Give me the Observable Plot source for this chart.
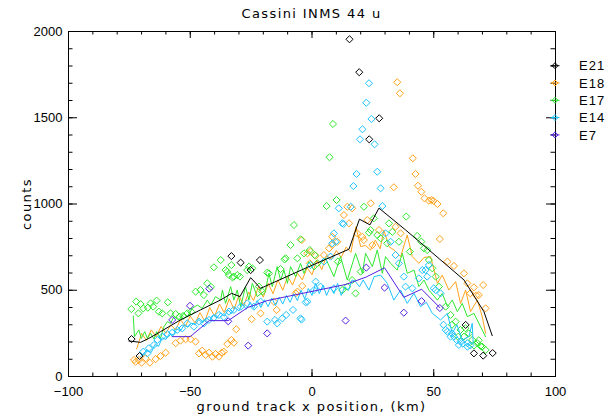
<!DOCTYPE html>
<html>
<head>
<meta charset="utf-8">
<script src="https://cdn.jsdelivr.net/npm/d3@7"></script>
<script src="https://cdn.jsdelivr.net/npm/@observablehq/plot@0.6"></script>
<style>
  html, body { margin: 0; padding: 0; background: #fff; }
  #wrap { position: relative; width: 610px; height: 414px; overflow: hidden; }
  .ovl { position: absolute; font-family: "DejaVu Sans", sans-serif; font-size: 13px; letter-spacing: 1.4px; color: #000; white-space: nowrap; line-height: 13px; }
</style>
</head>
<body>
<div id="wrap"></div>
<script>
// ---------- data (x = ground track x position km, y = counts) ----------
const seriesNames = ["E21", "E18", "E17", "E14", "E7"];
const seriesColors = ["#000000", "#ffa31a", "#2ee82e", "#1cc3ff", "#5420e0"];

const xMajor = [-100, -50, 0, 50, 100];
const xMinor = [-100, -90, -80, -70, -60, -50, -40, -30, -20, -10, 0, 10, 20, 30, 40, 50, 60, 70, 80, 90, 100];
const yMajor = [0, 500, 1000, 1500, 2000];
const yMinor = [0, 100, 200, 300, 400, 500, 600, 700, 800, 900, 1000, 1100, 1200, 1300, 1400, 1500, 1600, 1700, 1800, 1900, 2000];

const e21Pts = [[-74.1, 217], [-70.8, 119], [-33.1, 698], [-29.3, 660], [-25.2, 617], [-21.4, 675],
  [15.4, 1955], [19.4, 1764], [23.5, 1375], [27.6, 1497], [63.1, 299], [66.5, 134], [70.3, 121], [74.2, 136]];
const e21Line = [[-75.2, 206], [-70.4, 198], [-67.0, 221], [-62.2, 260], [-54.0, 328], [-45.8, 386], [-37.5, 444],
  [-33.0, 482], [-29.6, 463], [-25.2, 573], [-21.1, 511], [-0.6, 641], [15.2, 738], [19.5, 912], [23.8, 879],
  [27.5, 976], [38.4, 850], [62.4, 560], [70.6, 376], [74.0, 237]];

const e7Pts = [[-57.4, 328], [-50.1, 410], [-42.2, 509], [-34.4, 320], [-26.2, 179], [-18.4, 250],
  [13.8, 324], [22.3, 631], [29.8, 515], [37.7, 370], [45.0, 437], [52.5, 397]];
const e7Line = [[-57.4, 231], [-50.0, 231], [-42.2, 324], [-34.4, 324], [-26.4, 400], [-18.4, 440], [14.0, 534],
  [22.3, 577], [29.8, 630], [37.7, 459], [45.0, 506], [52.5, 399]];

const e18Pts = [[-73.1, 96], [-72.4, 86], [-71.1, 96], [-70.0, 80], [-68.3, 106], [-66.6, 80], [-64.2, 101], [-62.2, 119], [-60.1, 138],
  [-56.0, 193], [-54.0, 208], [-51.9, 216], [-49.9, 216], [-47.8, 202],
  [-46.4, 134], [-45.1, 150], [-43.7, 125], [-42.3, 138], [-40.9, 115], [-39.6, 130], [-38.2, 115], [-37.1, 138], [-36.2, 144],
  [-34.8, 188], [-33.1, 212], [-32.1, 196], [-31.1, 274], [-24.8, 332], [-21.1, 366], [-15.7, 434], [-14.5, 386],
  [-6.7, 482], [-6.0, 492], [-4.0, 525], [-4.2, 791], [-1.9, 714], [-0.9, 656], [-0.6, 724], [1.5, 700], [4.9, 704],
  [7.0, 743], [8.3, 762], [8.3, 810], [10.4, 781], [13.1, 936], [14.5, 984], [15.2, 888], [16.5, 975], [18.6, 830],
  [20.7, 810], [21.3, 791], [22.7, 907], [24.1, 1004], [24.8, 762], [27.5, 849], [33.6, 1097], [34.3, 868], [35.0, 1706],
  [36.1, 1642], [36.4, 830], [41.4, 1265], [42.5, 1174], [43.5, 1106], [44.9, 1071], [46.2, 1033], [48.0, 1019],
  [49.0, 1023], [49.8, 1019], [51.5, 1000], [53.9, 946], [52.5, 797], [55.6, 666], [58.3, 641], [62.4, 598],
  [63.8, 540], [65.0, 482], [66.5, 517], [67.5, 470], [68.5, 472], [70.3, 530], [71.3, 395]];
const e18Line = [[-72, 160], [-70, 250], [-68, 210], [-66, 270], [-64, 230], [-62, 290], [-60, 250], [-58, 300], [-56, 270],
  [-54, 330], [-52, 290], [-50, 350], [-48, 310], [-46, 370], [-44, 320], [-42, 400], [-40, 350], [-38, 420], [-36, 370],
  [-34, 450], [-32, 390], [-30, 470], [-28, 410], [-26, 490], [-24, 440], [-22, 520], [-20, 460], [-18, 540], [-16, 480],
  [-14, 560], [-12, 500], [-10, 580], [-8, 530], [-6, 600], [-4, 560], [-2, 630], [0, 590], [2, 675], [4, 620], [6, 700],
  [8, 680], [10, 730], [12, 690], [14, 750], [16, 720], [18, 868], [20, 753], [22, 760], [24, 733], [26, 790], [28, 740],
  [29.5, 849], [31.6, 753], [34, 730], [36.4, 695], [39.1, 820], [41.2, 695], [43.9, 656], [46, 690], [48.7, 695],
  [51.5, 540], [53.5, 588], [56.2, 501], [59, 550], [61, 424], [63.1, 501], [65.1, 376], [67.9, 443], [69.9, 347], [71.3, 250]];

const e17Pts = [[-74.2, 391], [-72.2, 434], [-70.4, 420], [-69.3, 395], [-71.3, 366], [-67.4, 399], [-66.3, 424], [-65.2, 405],
  [-63.8, 440], [-62.9, 376], [-61.5, 366], [-59.2, 430], [-58.1, 366], [-56.0, 362], [-54.4, 347], [-52.9, 351],
  [-51.2, 366], [-49.6, 376], [-47.8, 492], [-45.8, 501], [-44.4, 472], [-43.0, 540], [-41.5, 520], [-40.3, 633],
  [-37.5, 675], [-35.5, 617], [-34.8, 608], [-34.1, 588], [-33.1, 646], [-32.7, 575], [-32.1, 579], [-30.7, 588],
  [-29.6, 579], [-26.6, 617], [-25.9, 637], [-24.5, 627], [-21.8, 521], [-20.4, 492], [-18.4, 602], [-17.7, 598],
  [-12.9, 623], [-11.3, 679], [-10.8, 685], [-8.8, 762], [-7.4, 878], [-6.0, 685], [-4.7, 795], [-3.3, 714], [-0.9, 733],
  [1.1, 704], [2.2, 656], [6.0, 988], [7.2, 1271], [8.6, 1464], [10.1, 1023], [10.6, 666], [12.4, 501], [14.5, 521],
  [16.5, 559], [17.9, 482], [20.0, 608], [21.3, 984], [23.4, 834], [24.1, 849], [25.4, 917], [26.8, 820], [28.2, 801],
  [30.9, 772], [31.6, 888], [33.0, 839], [35.7, 781], [38.7, 927], [40.2, 724], [43.2, 815], [44.9, 782], [46.0, 743],
  [47.3, 733], [48.0, 675], [49.4, 627], [50.8, 579], [52.1, 521], [54.9, 405], [56.9, 357], [57.5, 300], [59.0, 318],
  [60.0, 230], [61.0, 270], [62.4, 231], [63.0, 280], [64.4, 250], [65.8, 212], [66.5, 180], [67.9, 193], [68.5, 210],
  [69.2, 177], [69.9, 173], [71.3, 154]];
const e17Line = [[-73.4, 351], [-72.9, 231], [-71.1, 270], [-70.1, 221], [-68.7, 260], [-67.6, 221], [-66.3, 250], [-64.9, 217],
  [-63.8, 260], [-62.2, 221], [-60.8, 289], [-59.4, 318], [-58.1, 308], [-56.7, 347], [-54.7, 328], [-52.6, 366],
  [-51.2, 347], [-49.2, 395], [-47.1, 414], [-45.1, 395], [-43.0, 443], [-41.6, 414], [-39.6, 463], [-37.5, 443],
  [-36.8, 501], [-35.5, 424], [-33.4, 521], [-32.1, 443], [-30.7, 501], [-29.3, 405], [-27.3, 521], [-25.9, 443],
  [-24.5, 540], [-22.5, 463], [-19.1, 501], [-17.7, 598], [-16.3, 521], [-14.3, 637], [-12.9, 559], [-11.5, 617],
  [-10.1, 540], [-8.8, 637], [-6.7, 579], [-4.7, 656], [-3.3, 598], [-1.3, 666], [0.8, 617], [2.2, 637], [5.6, 685],
  [9.0, 579], [11.7, 695], [14.5, 559], [17.9, 714], [20.7, 598], [22.0, 714], [24.8, 637], [26.8, 733], [28.9, 598],
  [30.2, 695], [32.3, 656], [35.0, 617], [37.1, 714], [39.1, 598], [41.9, 617], [43.9, 521], [46.0, 559], [48.0, 501],
  [51.5, 443], [53.5, 482], [55.6, 405], [57.6, 443], [59.7, 376], [61.7, 424], [63.8, 347], [66.5, 366], [69.2, 289], [71.3, 231]];

const e14Pts = [[-69.3, 144], [-67.6, 134], [-67.0, 164], [-64.9, 183], [-63.5, 212], [-61.5, 231], [-59.4, 246], [-57.4, 254],
  [-55.3, 270], [-53.3, 279], [-51.2, 308], [-48.5, 289], [-46.4, 318], [-44.4, 308], [-42.3, 328], [-40.3, 340],
  [-38.2, 357], [-36.2, 345], [-34.1, 376], [-32.1, 386], [-29.3, 405], [-26.6, 424], [-23.9, 405], [-21.1, 434],
  [-18.4, 318], [-15.2, 328], [-14.3, 308], [-12.2, 337], [-10.6, 357], [-7.8, 386], [-4.7, 337], [-4.3, 330],
  [-2.6, 430], [-1.9, 434], [0.8, 501], [-0.6, 646], [1.5, 550], [3.5, 521], [4.9, 666], [7.6, 695], [8.3, 772],
  [9.0, 511], [9.0, 830], [9.7, 781], [11.0, 975], [12.4, 888], [13.0, 884], [15.9, 984], [17.0, 1104], [18.3, 1174],
  [19.7, 1375], [20.7, 1433], [22.3, 1587], [23.4, 1700], [24.4, 1493], [25.7, 1346], [26.8, 1187], [28.2, 1091],
  [28.9, 988], [30.2, 830], [32.3, 781], [34.3, 704], [35.7, 656], [37.7, 579], [38.4, 521], [41.2, 511], [43.9, 569],
  [45.3, 617], [46.6, 617], [48.0, 646], [47.3, 579], [50.0, 511], [50.8, 501], [52.8, 482], [54.0, 300], [54.9, 270],
  [55.6, 260], [56.9, 231], [57.5, 250], [58.3, 231], [59.5, 210], [60.3, 183], [61.0, 202], [62.0, 190], [63.8, 193],
  [63.8, 173], [65.0, 180]];
const e14Line = [[-70.4, 115], [-68, 150], [-66, 140], [-64.5, 185], [-63, 175], [-61.5, 225], [-60, 215], [-58.5, 250],
  [-57, 240], [-55.5, 275], [-54, 265], [-52.5, 300], [-51, 285], [-49.5, 310], [-48, 300], [-46.5, 330], [-45, 310],
  [-43.5, 340], [-42, 325], [-40.5, 355], [-39, 340], [-37.5, 370], [-36, 350], [-34.5, 385], [-33, 365], [-31.5, 400],
  [-30, 380], [-28.5, 420], [-27, 390], [-25.5, 430], [-24, 395], [-22.5, 440], [-21, 400], [-19.5, 445], [-18, 405],
  [-16.5, 455], [-15, 410], [-13.5, 460], [-12, 420], [-10.5, 470], [-9, 430], [-7.5, 480], [-6, 440], [-4.5, 500],
  [-3, 450], [-1.5, 510], [0, 470], [1.5, 540], [3, 480], [4.5, 530], [6, 470], [7.5, 520], [9, 480], [10.5, 540],
  [12, 470], [13.5, 520], [15, 500], [16.5, 560], [17.9, 550], [19.5, 520], [21, 560], [23.4, 501], [25.5, 579],
  [28.2, 588], [30.9, 540], [33.6, 443], [36.4, 501], [39.1, 424], [41.9, 482], [44.6, 405], [47, 430], [49.4, 366],
  [52.8, 328], [55.6, 366], [57.6, 250], [59.5, 300], [61.7, 212], [64.4, 231], [65.8, 308], [66.2, 193]];

// ---------- layout ----------
const W = 610, H = 414;
const mL = 68, mR = 55, mT = 31, mB = 38;
const PW = W - mL - mR, PH = H - mT - mB;
const fmtX = d => (d < 0 ? "\u2212" + Math.abs(d) : String(d));

const pts = [e21Pts, e18Pts, e17Pts, e14Pts, e7Pts];
const lns = [e21Line, e18Line, e17Line, e14Line, e7Line];
const drawOrder = [1, 2, 3, 4, 0];

const dataMarks = [];
for (const i of drawOrder) {
  dataMarks.push(Plot.line(lns[i], {x: d => d[0], y: d => d[1], stroke: seriesColors[i], strokeWidth: 1}));
  dataMarks.push(Plot.dot(pts[i], {x: d => d[0], y: d => d[1], symbol: "diamond2", r: 3.2, stroke: seriesColors[i], fill: "none", strokeWidth: 1}));
}

const chart = Plot.plot({
  width: W, height: H,
  marginLeft: mL, marginRight: mR, marginTop: mT, marginBottom: mB,
  style: {fontFamily: "'Liberation Sans', Arial, sans-serif", fontSize: "13px", background: "#fff", color: "#000", overflow: "visible"},
  x: {domain: [-100, 100], ticks: xMajor, tickSize: 0, tickPadding: 10, tickFormat: fmtX, label: null},
  y: {domain: [0, 2000], ticks: yMajor, tickSize: 0, tickPadding: 6, tickFormat: d => String(d), label: null},
  marks: [
    ...dataMarks,
    // inward ticks, bottom & top
    Plot.ruleX(xMinor, {x: d => d, insetTop: PH - 3.5, stroke: "#000"}),
    Plot.ruleX(xMajor, {x: d => d, insetTop: PH - 7, stroke: "#000"}),
    Plot.ruleX(xMinor, {x: d => d, insetBottom: PH - 3.5, stroke: "#000"}),
    Plot.ruleX(xMajor, {x: d => d, insetBottom: PH - 7, stroke: "#000"}),
    // inward ticks, left & right
    Plot.ruleY(yMinor, {y: d => d, insetRight: PW - 4.5, stroke: "#000"}),
    Plot.ruleY(yMajor, {y: d => d, insetRight: PW - 9, stroke: "#000"}),
    Plot.ruleY(yMinor, {y: d => d, insetLeft: PW - 4.5, stroke: "#000"}),
    Plot.ruleY(yMajor, {y: d => d, insetLeft: PW - 9, stroke: "#000"}),
    Plot.frame({stroke: "#000", strokeWidth: 1})
  ]
});

const wrap = document.getElementById("wrap");
wrap.appendChild(chart);

// ---------- legend (in the right margin, diamonds sitting on the frame) ----------
const svg = d3.select(chart);
const xEdge = W - mR;
const leg = svg.append("g").attr("class", "legend");
seriesNames.forEach((name, i) => {
  const cy = 65.7 + i * 17.3;
  const g = leg.append("g").attr("transform", `translate(${xEdge},${cy})`);
  g.append("line").attr("x1", -4.5).attr("x2", 4.5).attr("y1", 0).attr("y2", 0)
    .attr("stroke", seriesColors[i]).attr("stroke-width", 1);
  g.append("path").attr("d", "M0,-3L3,0L0,3L-3,0Z").attr("fill", "none")
    .attr("stroke", seriesColors[i]).attr("stroke-width", 1);
  g.append("text").attr("x", 24).attr("y", 0).attr("dy", "0.36em")
    .attr("text-anchor", "start")
    .attr("font-family", "'Liberation Sans', Arial, sans-serif").attr("font-size", 13)
    .attr("letter-spacing", "1px").attr("fill", "#000").text(name);
});

// ---------- title and axis labels ----------
function overlay(text, css) {
  const d = document.createElement("div");
  d.className = "ovl";
  d.textContent = text;
  Object.assign(d.style, css);
  wrap.appendChild(d);
  return d;
}
const t = overlay("Cassini INMS 44 u", {left: "0px", width: W + "px", top: "7px", textAlign: "center"});
t.style.left = (mL + PW / 2 - W / 2) + "px";
const xl = overlay("ground track x position, (km)", {left: "0px", width: W + "px", top: "400px", textAlign: "center"});
xl.style.left = (mL + PW / 2 - W / 2) + "px";
const yl = overlay("counts", {left: "26px", top: (mT + PH / 2) + "px", transform: "translate(-50%,-50%) rotate(-90deg)", transformOrigin: "center"});
</script>
</body>
</html>
